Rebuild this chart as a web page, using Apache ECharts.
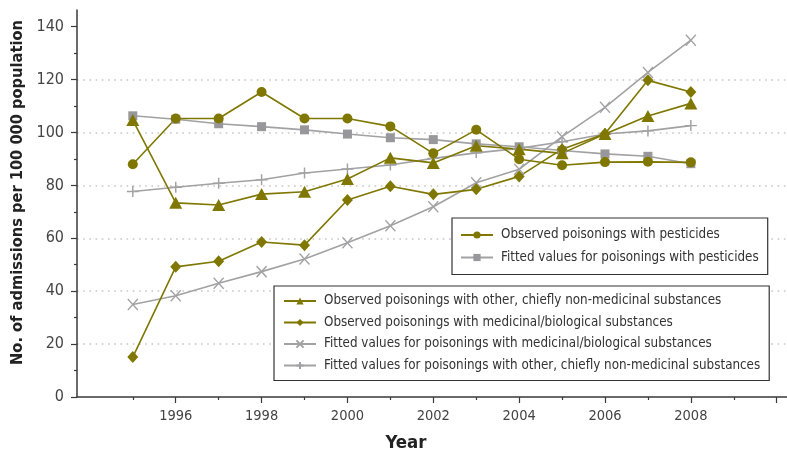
<!DOCTYPE html>
<html>
<head>
<meta charset="utf-8">
<script src="https://cdn.jsdelivr.net/npm/echarts@6/dist/echarts.min.js"></script>
<style>
  html, body { margin: 0; padding: 0; background: #fff; }
  #chart { width: 787px; height: 458px; }
</style>
</head>
<body>
<div id="chart"></div>
<script>
// Hospital admissions for poisoning per 100 000 population, 1995-2008
const years = [1995, 1996, 1997, 1998, 1999, 2000, 2001, 2002, 2003, 2004, 2005, 2006, 2007, 2008];

const observedPesticides = [88, 105.3, 105.3, 115.3, 105.3, 105.3, 102.3, 92.1, 101, 89.9, 87.6, 88.8, 88.9, 88.7];
const fittedPesticides = [106.3, 105, 103.3, 102.2, 101, 99.4, 98, 97.3, 95.7, 94.6, 93.2, 91.9, 91, 88.2];
const observedOther = [104.7, 73.4, 72.6, 76.7, 77.6, 82.4, 90.4, 88.5, 95, 93.7, 92.1, 99.4, 106.2, 111];
const observedMedicinal = [15.1, 49.2, 51.3, 58.6, 57.4, 74.5, 79.7, 76.6, 78.5, 83.4, 93.7, 99.5, 119.7, 115.3];
const fittedMedicinal = [35, 38.3, 43, 47.4, 52.2, 58.3, 64.7, 71.9, 81, 86.1, 98.4, 109.5, 122.7, 134.9];
const fittedOther = [77.7, 79.3, 80.8, 82.1, 84.7, 86.2, 87.7, 90.2, 92.3, 94, 96.5, 99.4, 100.6, 102.6];

// Axis ticks and labels
const yearLabels = [1996, 1998, 2000, 2002, 2004, 2006, 2008];
const yearMajorTicks = [1996, 1998, 2000, 2002, 2004, 2006, 2008, 2010];
const yearMinorTicks = [1995, 1997, 1999, 2001, 2003, 2005, 2007, 2009];
const valueLabels = [0, 20, 40, 60, 80, 100, 120, 140];
const valueMinorTicks = [10, 30, 50, 70, 90, 110, 130];

const names = {
  obsPest: 'Observed poisonings with pesticides',
  fitPest: 'Fitted values for poisonings with pesticides',
  obsOther: 'Observed poisonings with other, chiefly non-medicinal substances',
  obsMed: 'Observed poisonings with medicinal/biological substances',
  fitMed: 'Fitted values for poisonings with medicinal/biological substances',
  fitOther: 'Fitted values for poisonings with other, chiefly non-medicinal substances'
};

const OLIVE = '#7f7700';
const GREY_LINE = '#a2a2a4';
const GREY_MARK = '#98989c';
const AXIS = '#3a3a3a';
const FONT = '"Liberation Sans Narrow", "DejaVu Sans Condensed", sans-serif';

const X_MIN = 1993.7, X_MAX = 2010.24;
const Y_MIN = 0, Y_MAX = 146.3;

const pairs = vals => years.map((y, i) => [y, vals[i]]);

function lineSeries(name, vals, color, symbol, size, extra) {
  return Object.assign({
    name: name,
    type: 'line',
    xAxisIndex: 0,
    yAxisIndex: 0,
    data: pairs(vals),
    symbol: symbol,
    symbolSize: size,
    showAllSymbol: true,
    lineStyle: { color: color, width: 1.6 },
    itemStyle: { color: color },
    emphasis: { disabled: true },
    animation: false
  }, extra || {});
}

const crossStyle = {
  itemStyle: { color: 'rgba(0,0,0,0)', borderColor: GREY_LINE, borderWidth: 1.4 }
};

const legendText = { fontFamily: FONT, fontSize: 13.3, color: '#333', lineHeight: 16, padding: [0, 0, 0, 3] };

function legendBox(data, left, top, gap, pad) {
  return {
    data: data,
    orient: 'vertical',
    left: left,
    top: top,
    padding: pad,
    itemGap: gap,
    itemWidth: 32,
    itemHeight: 9,
    borderColor: '#333',
    borderWidth: 1.2,
    backgroundColor: '#fff',
    textStyle: legendText,
    selectedMode: false
  };
}

const option = {
  animation: false,
  backgroundColor: '#fff',
  grid: { left: 77, right: 0, top: 10, bottom: 61, containLabel: false },
  xAxis: [
    {
      type: 'value',
      position: 'bottom',
      min: X_MIN,
      max: X_MAX,
      name: 'Year',
      nameLocation: 'middle',
      nameGap: 37,
      nameTextStyle: { fontFamily: FONT, fontSize: 18.5, fontWeight: 'bold', color: '#222', padding: [0, 52, 0, 0] },
      axisLine: { onZero: false, lineStyle: { color: AXIS, width: 1.5 } },
      axisTick: { show: true, customValues: yearMajorTicks, length: 6, lineStyle: { color: AXIS, width: 1.2 } },
      axisLabel: { customValues: yearLabels, margin: 12, fontFamily: FONT, fontSize: 14.5, color: '#444', formatter: v => String(v) },
      splitLine: { show: false }
    },
    {
      // odd-year minor ticks
      type: 'value',
      position: 'bottom',
      min: X_MIN,
      max: X_MAX,
      axisLine: { show: false, onZero: false },
      axisTick: { show: true, customValues: yearMinorTicks, length: 3, lineStyle: { color: AXIS, width: 1.2 } },
      axisLabel: { show: false },
      splitLine: { show: false }
    }
  ],
  yAxis: [
    {
      type: 'value',
      position: 'left',
      min: Y_MIN,
      max: Y_MAX,
      interval: 20,
      name: 'No. of admissions per 100 000 population',
      nameLocation: 'middle',
      nameRotate: 90,
      nameGap: 51,
      nameTextStyle: { fontFamily: FONT, fontSize: 16.3, fontWeight: 'bold', color: '#222', padding: [0, 0, 0, 22] },
      axisLine: { show: true, onZero: false, lineStyle: { color: AXIS, width: 1.5 } },
      axisTick: { show: true, customValues: valueLabels, length: 6, lineStyle: { color: AXIS, width: 1.2 } },
      axisLabel: { customValues: valueLabels, margin: 13, fontFamily: FONT, fontSize: 16, color: '#444' },
      splitLine: {
        show: true,
        showMinLine: false,
        showMaxLine: false,
        lineStyle: { color: '#c6c6c6', width: 1.6, type: [1.6, 4.6] }
      }
    },
    {
      // minor ticks between labelled values
      type: 'value',
      position: 'left',
      min: Y_MIN,
      max: Y_MAX,
      axisLine: { show: false, onZero: false },
      axisTick: { show: true, customValues: valueMinorTicks, length: 3, lineStyle: { color: AXIS, width: 1.2 } },
      axisLabel: { show: false },
      splitLine: { show: false }
    }
  ],
  legend: [
    legendBox([names.obsPest, names.fitPest], 452, 218, 6.5, [9, 9, 9, 8]),
    legendBox([names.obsOther, names.obsMed, names.fitMed, names.fitOther], 274, 286, 5.5, [7, 9, 7, 9])
  ],
  series: [
    lineSeries(names.fitMed, fittedMedicinal, GREY_LINE, 'path://M0,0L10,10M10,0L0,10', [10, 11], crossStyle),
    lineSeries(names.fitOther, fittedOther, GREY_LINE, 'path://M0,5L10,5M5,0L5,10', [12, 11], crossStyle),
    lineSeries(names.fitPest, fittedPesticides, GREY_LINE, 'rect', 9, { itemStyle: { color: GREY_MARK } }),
    lineSeries(names.obsMed, observedMedicinal, OLIVE, 'diamond', [11, 12]),
    lineSeries(names.obsOther, observedOther, OLIVE, 'triangle', [13, 12]),
    lineSeries(names.obsPest, observedPesticides, OLIVE, 'circle', 10)
  ]
};

const chart = echarts.init(document.getElementById('chart'), null, { renderer: 'canvas' });
chart.setOption(option);
</script>
</body>
</html>
